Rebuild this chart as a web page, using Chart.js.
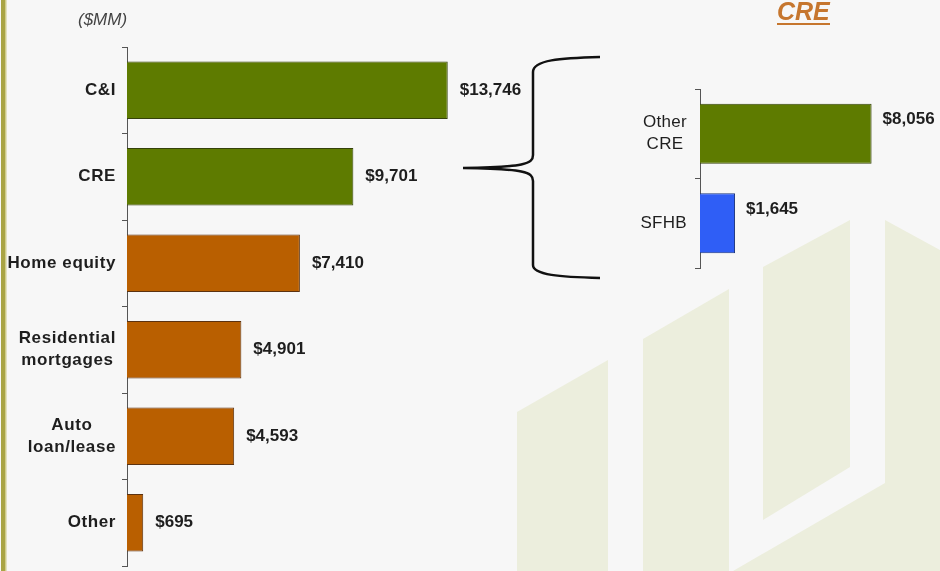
<!DOCTYPE html>
<html>
<head>
<meta charset="utf-8">
<script src="https://cdn.jsdelivr.net/npm/chart.js@4.4.1/dist/chart.umd.min.js"></script>
<style>
  html, body { margin: 0; padding: 0; background: #f7f7f7; }
  #page { position: relative; width: 940px; height: 571px; overflow: hidden; font-family: Arial, "Liberation Sans", sans-serif; }
  #bg { position: absolute; left: 0; top: 0; }
  #leftChart { position: absolute; left: 0; top: 0; }
  #rightChart { position: absolute; left: 560px; top: 0; }
  .unit { position: absolute; left: 78px; top: 11px; font-size: 17px; line-height: 17px; font-style: italic; color: #444; }
  .cre-title { position: absolute; left: 777px; top: 0; font-size: 25px; line-height: 23px; font-weight: bold; font-style: italic; color: #c6762e; border-bottom: 2px solid #c6762e; }
</style>
</head>
<body>
<div id="page">
  <svg id="bg" width="940" height="571">
    <rect x="1" y="0" width="5" height="571" fill="#a9a445"/>
    <rect x="5" y="0" width="1.5" height="571" fill="#cfcc8a"/>
    <g fill="#eceedd">
      <polygon points="517,412 608,360 608,571 517,571"/>
      <polygon points="643,339 729,289 729,571 643,571"/>
      <polygon points="763,267 850,220 850,467 763,520"/>
      <polygon points="885,220 940,250 940,571 733,571 885,483"/>
    </g>
  </svg>
  <canvas id="leftChart" width="560" height="571"></canvas>
  <canvas id="rightChart" width="380" height="571"></canvas>
  <svg id="brace" width="940" height="571" style="position:absolute;left:0;top:0;pointer-events:none">
    <path d="M600,57 C560,58 533,60 533,72 L533,155 C533,164 525,167 463,168 C525,169 533,172 533,181 L533,265 C533,275 560,277 600,278"
          fill="none" stroke="#111" stroke-width="2.5"/>
  </svg>
  <div class="unit">($MM)</div>
  <div class="cre-title">CRE</div>
</div>
<script>
const leftCategories = ['C&I', 'CRE', 'Home equity', ['Residential', 'mortgages'], ['Auto', 'loan/lease'], 'Other'];
const leftValues = [13746, 9701, 7410, 4901, 4593, 695];

const rightCategories = [['Other', 'CRE'], 'SFHB'];
const rightValues = [8056, 1645];

const FONT = 'Arial, "Liberation Sans", sans-serif';
const GREEN = '#5e7b00', ORANGE = '#b95f00', BLUE = '#2f5ef6';

// value labels next to each bar + centred multi-line category labels
const barLabels = {
  id: 'barLabels',
  afterDatasetsDraw(chart, args, opts) {
    const ctx = chart.ctx;
    const meta = chart.getDatasetMeta(0);
    const data = chart.data.datasets[0].data;
    ctx.save();
    ctx.fillStyle = '#1e1e1e';
    ctx.textBaseline = 'middle';

    ctx.font = 'bold 17px ' + FONT;
    ctx.textAlign = 'left';
    meta.data.forEach((bar, i) => {
      ctx.fillText('$' + data[i].toLocaleString('en-US'), bar.x + opts.offset, bar.y + opts.dy);
    });

    const yScale = chart.scales.y;
    ctx.font = opts.catFont;
    ctx.letterSpacing = opts.spacing;
    ctx.textAlign = 'center';
    chart.data.labels.forEach((lab, i) => {
      const lines = [].concat(lab);
      const w = Math.max(...lines.map(l => ctx.measureText(l).width));
      const cx = yScale.right - opts.gap - w / 2;
      const cy = yScale.getPixelForTick(i);
      lines.forEach((l, k) => ctx.fillText(l, cx, cy + (k - (lines.length - 1) / 2) * 22));
    });
    ctx.restore();
  }
};

function yAxis(width) {
  return {
    grid: { offset: true, drawOnChartArea: false, tickLength: 5, color: '#555' },
    border: { color: '#555', width: 1 },
    ticks: { display: false },
    afterFit(scale) { scale.width = width; }
  };
}

new Chart(document.getElementById('leftChart'), {
  type: 'bar',
  data: {
    labels: leftCategories,
    datasets: [{
      data: leftValues,
      backgroundColor: c => c.dataIndex < 2 ? GREEN : ORANGE,
      borderColor: c => c.dataIndex < 2 ? '#35420a' : '#5c3210',
      borderWidth: 1,
      barPercentage: 0.667,
      categoryPercentage: 1
    }]
  },
  options: {
    indexAxis: 'y',
    responsive: false,
    animation: false,
    layout: { padding: { top: 47, bottom: 5, left: 0, right: 13 } },
    scales: {
      x: { display: false, min: 0, max: 18000 },
      y: yAxis(127)
    },
    plugins: {
      legend: { display: false },
      tooltip: { enabled: false },
      barLabels: { offset: 12, dy: 0, gap: 11, spacing: '0.6px', catFont: 'bold 17px ' + FONT }
    }
  },
  plugins: [barLabels]
});

new Chart(document.getElementById('rightChart'), {
  type: 'bar',
  data: {
    labels: rightCategories,
    datasets: [{
      data: rightValues,
      backgroundColor: c => c.dataIndex === 0 ? GREEN : BLUE,
      borderColor: c => c.dataIndex === 0 ? '#35420a' : '#1c357f',
      borderWidth: 1,
      barPercentage: 0.67,
      categoryPercentage: 1
    }]
  },
  options: {
    indexAxis: 'y',
    responsive: false,
    animation: false,
    layout: { padding: { top: 89, bottom: 303, left: 0, right: 27 } },
    scales: {
      x: { display: false, min: 0, max: 10000 },
      y: yAxis(140)
    },
    plugins: {
      legend: { display: false },
      tooltip: { enabled: false },
      barLabels: { offset: 11, dy: -14, gap: 13, spacing: '0.3px', catFont: '17px ' + FONT }
    }
  },
  plugins: [barLabels]
});
</script>
</body>
</html>
